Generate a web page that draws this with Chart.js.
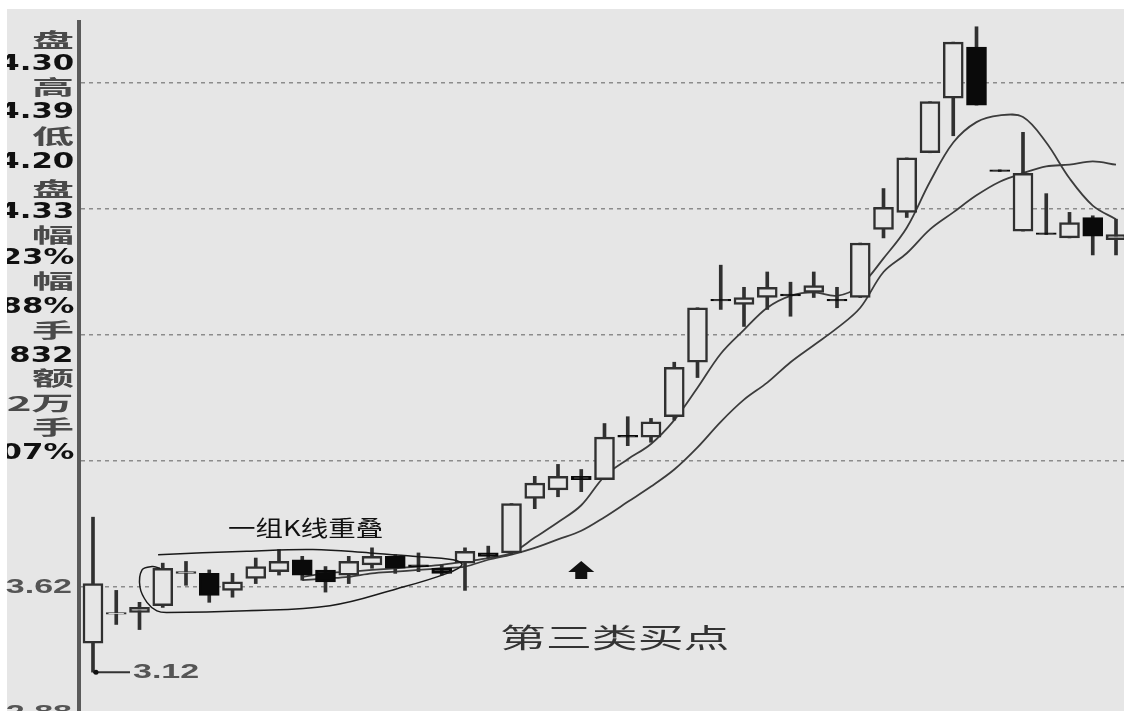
<!DOCTYPE html>
<html>
<head>
<meta charset="utf-8">
<script src="https://cdn.jsdelivr.net/npm/chart.js@4"></script>
<style>
html, body { margin: 0; padding: 0; background: #fff; overflow: hidden; width: 1124px; height: 711px; }
#bg { position: absolute; left: 7px; top: 9px; right: 0; bottom: 0; background: #e6e6e6; }
#c { position: absolute; left: 0; top: 0; }
.panel { position: absolute; left: 7px; top: 9px; width: 70px; height: 462px; overflow: hidden; }
.panel div { position: absolute; right: 3px; white-space: nowrap; transform-origin: right center; line-height: 1; }
.cjk { font: bold 20px "Noto Sans CJK SC"; color: #4a4a4a; transform: scaleX(2.1); }
.num { font: bold 22px "DejaVu Sans"; color: #111; transform: scaleX(1.4); }
.note { position: absolute; white-space: nowrap; transform-origin: left center; line-height: 1; }
</style>
</head>
<body>
<div id="bg"></div>
<canvas id="c" width="1124" height="720"></canvas>
<div class="panel" id="panel"></div>
<div class="note" style="left:228px;top:510px;font:22px 'Noto Sans CJK SC';color:#111;transform:scaleX(1.25)">一组K线重叠</div>
<div class="note" style="left:500px;top:617px;font:27px 'Noto Sans CJK SC';color:#333;transform:scaleX(1.7)">第三类买点</div>
<script>
// K线数据
const opens  = [3.29,3.46,3.47,3.51,3.70,3.70,3.60,3.67,3.71,3.78,3.72,3.69,3.75,3.80,3.75,3.73,3.76,3.82,3.82,4.14,4.19,4.27,4.25,4.51,4.50,4.62,4.94,5.31,5.28,5.32,5.34,5.35,5.31,5.32,5.72,5.82,6.17,6.49,6.79,6.07,5.71,5.70,5.67,5.79,5.66];
const highs  = [4.03,3.60,3.53,3.76,3.77,3.72,3.70,3.79,3.84,3.80,3.74,3.80,3.85,3.81,3.82,3.75,3.85,3.86,4.11,4.27,4.34,4.31,4.58,4.62,4.61,4.94,5.26,5.51,5.38,5.47,5.41,5.47,5.38,5.64,5.96,6.14,6.47,6.82,6.91,6.07,6.29,5.93,5.82,5.80,5.78];
const lows   = [3.12,3.40,3.37,3.50,3.63,3.53,3.56,3.64,3.69,3.66,3.59,3.64,3.73,3.70,3.71,3.69,3.60,3.79,3.81,4.08,4.15,4.18,4.25,4.45,4.47,4.60,4.85,5.25,5.15,5.25,5.21,5.32,5.26,5.32,5.67,5.79,6.17,6.27,6.45,6.06,5.71,5.69,5.67,5.57,5.57];
const closes = [3.64,3.47,3.50,3.73,3.71,3.57,3.65,3.74,3.77,3.69,3.65,3.77,3.80,3.73,3.74,3.70,3.83,3.80,4.11,4.23,4.27,4.25,4.50,4.50,4.59,4.91,5.26,5.30,5.32,5.38,5.33,5.39,5.30,5.64,5.85,6.14,6.47,6.82,6.45,6.06,6.05,5.69,5.76,5.68,5.69];

// 均线
const ma5  = [null,null,null,null,null,null,null,null,null,3.68,3.70,3.71,3.72,3.73,3.74,3.75,3.77,3.79,3.82,3.91,4.00,4.10,4.27,4.37,4.46,4.60,4.79,4.99,5.13,5.26,5.33,5.35,5.33,5.39,5.55,5.73,6.00,6.23,6.35,6.39,6.38,6.23,6.02,5.86,5.78];
const ma10 = [null,null,null,null,null,null,null,null,null,3.66,3.67,3.68,3.70,3.71,3.72,3.73,3.74,3.78,3.81,3.85,3.90,3.95,4.03,4.12,4.21,4.31,4.44,4.59,4.72,4.82,4.94,5.04,5.14,5.26,5.47,5.58,5.72,5.82,5.92,6.00,6.05,6.09,6.10,6.12,6.10];

// 网格和刻度
const gridValues = [2.88, 3.62, 4.36, 5.10, 5.84, 6.58];
const yLabels = [3.62, 2.88];

// 手画的圈
const loopX = [2.80,6.62,9.46,11.91,13.76,15.48,15.87,15.23,13.08,10.19,6.62,3.18,2.75,2.32,2.02,2.11,2.54,2.88];
const loopY = [3.81,3.83,3.84,3.82,3.80,3.78,3.75,3.70,3.61,3.51,3.48,3.47,3.48,3.53,3.62,3.72,3.74,3.73];

const lowMark = [0, 3.12];
const arrowAt = [21, 3.72];

// 左侧信息栏
const panelLines = [
  ['盘', 40, 'cjk'], ['4.30', 63, 'num'], ['高', 87, 'cjk'], ['4.39', 111, 'num'],
  ['低', 136, 'cjk'], ['4.20', 161, 'num'], ['盘', 189, 'cjk'], ['4.33', 211, 'num'],
  ['幅', 235, 'cjk'], ['1.23%', 257, 'num'], ['幅', 281, 'cjk'], ['3.88%', 306, 'num'],
  ['手', 330, 'cjk'], ['15832', 355, 'num'], ['额', 378, 'cjk'], ['52万', 403, 'cjk'],
  ['手', 427, 'cjk'], ['2.07%', 452, 'num']
];
const panel = document.getElementById('panel');
panelLines.forEach(([t, cy, cls]) => {
  const d = document.createElement('div');
  d.className = cls;
  d.textContent = t;
  d.style.top = (cy - 9 - (cls === 'cjk' ? 10 : 11)) + 'px';
  panel.appendChild(d);
});

const BG = '#e6e6e6';
const idx = opens.map((_, i) => i);

const bodies = idx.map(i => ({ x: i, y: [opens[i], closes[i]] }));
const wicks = idx.map(i => ({ x: i, y: [lows[i], highs[i]] }));
const bodyFill = idx.map(i => closes[i] >= opens[i] ? BG : '#0a0a0a');
const bodyBorder = idx.map(i => closes[i] >= opens[i] ? '#303030' : '#0a0a0a');

const toPts = arr => arr.map((v, i) => v === null ? null : { x: i, y: v }).filter(p => p);

const overlay = {
  id: 'overlay',
  afterDraw(chart) {
    const { ctx, scales: { x, y } } = chart;
    ctx.save();
    // y 轴标签
    ctx.fillStyle = '#555';
    ctx.font = 'bold 20px "Liberation Sans"';
    ctx.textAlign = 'right';
    ctx.textBaseline = 'middle';
    yLabels.forEach(v => {
      ctx.save();
      ctx.translate(72, y.getPixelForValue(v));
      ctx.scale(1.7, 1);
      ctx.fillText(v.toFixed(2), 0, 0);
      ctx.restore();
    });
    // 最低价标记
    const lx = x.getPixelForValue(lowMark[0]);
    const ly = y.getPixelForValue(lowMark[1]);
    ctx.strokeStyle = '#333';
    ctx.lineWidth = 2;
    ctx.beginPath();
    ctx.moveTo(lx, ly);
    ctx.lineTo(lx + 37, ly);
    ctx.stroke();
    ctx.fillStyle = '#111';
    ctx.beginPath();
    ctx.arc(lx + 3, ly, 2.5, 0, Math.PI * 2);
    ctx.fill();
    ctx.fillStyle = '#555';
    ctx.textAlign = 'left';
    ctx.save();
    ctx.translate(lx + 40, ly);
    ctx.scale(1.7, 1);
    ctx.fillText(lowMark[1].toFixed(2), 0, 0);
    ctx.restore();
    // 箭头
    const ax = x.getPixelForValue(arrowAt[0]);
    const ay = y.getPixelForValue(arrowAt[1]);
    ctx.fillStyle = '#111';
    ctx.beginPath();
    ctx.moveTo(ax, ay - 9);
    ctx.lineTo(ax + 13, ay + 2);
    ctx.lineTo(ax + 6, ay + 2);
    ctx.lineTo(ax + 6, ay + 9);
    ctx.lineTo(ax - 6, ay + 9);
    ctx.lineTo(ax - 6, ay + 2);
    ctx.lineTo(ax - 13, ay + 2);
    ctx.closePath();
    ctx.fill();
    ctx.restore();
  }
};

new Chart(document.getElementById('c'), {
  type: 'bar',
  data: {
    datasets: [
      {
        type: 'line', data: loopX.map((v, i) => ({ x: v, y: loopY[i] })),
        borderColor: '#1a1a1a', borderWidth: 1.5, pointRadius: 0, tension: 0.4, order: 0
      },
      {
        data: bodies, backgroundColor: bodyFill, borderColor: bodyBorder, borderWidth: 2.5,
        borderSkipped: false, barThickness: 20, grouped: false, order: 1
      },
      {
        data: wicks, backgroundColor: '#303030', borderWidth: 0,
        barThickness: 3, grouped: false, order: 2
      },
      {
        type: 'line', data: toPts(ma5), borderColor: '#3c3c3c', borderWidth: 1.8,
        pointRadius: 0, tension: 0.35, order: 3
      },
      {
        type: 'line', data: toPts(ma10), borderColor: '#3c3c3c', borderWidth: 1.8,
        pointRadius: 0, tension: 0.35, order: 3
      }
    ]
  },
  options: {
    responsive: false,
    animation: false,
    devicePixelRatio: 1,
    layout: { padding: { left: 76, top: 22, right: 0, bottom: 7 } },
    plugins: { legend: { display: false }, tooltip: { enabled: false } },
    scales: {
      x: { type: 'linear', min: -0.602, max: 44.344, offset: false, display: false },
      y: {
        min: 2.88, max: 6.938,
        afterFit: s => { s.width = 3; },
        afterBuildTicks: s => { s.ticks = gridValues.map(v => ({ value: v })); },
        ticks: { display: false },
        grid: { color: '#8c8c8c', lineWidth: 1.5, drawTicks: false },
        border: { display: true, color: '#5a5a5a', width: 4, dash: [4, 4] }
      }
    }
  },
  plugins: [overlay]
});
</script>
</body>
</html>
